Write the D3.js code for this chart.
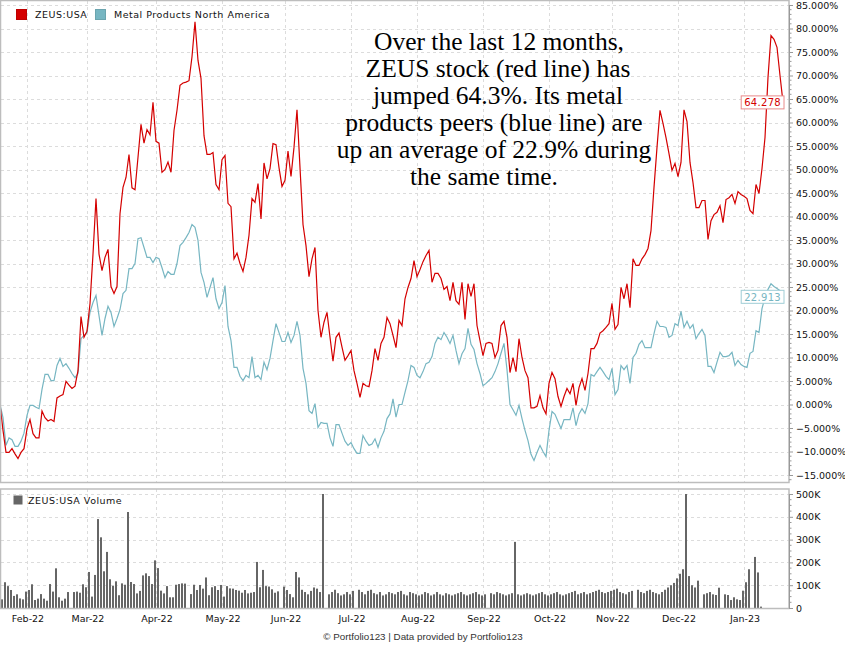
<!DOCTYPE html>
<html>
<head>
<meta charset="utf-8">
<title>ZEUS vs Metal Products North America</title>
<script src="https://d3js.org/d3.v7.min.js"></script>
<style>
  body { margin: 0; background: #fff; }
</style>
</head>
<body>
<div id="chart"></div>
<script>
// trading-day slots (weekdays) from Jan 19 2022; null volume = market holiday
const zeus = [0,-5.5,-10.2,-10.2,-9.4,-10.5,-11.5,-10.2,-9.4,-5.2,-3.2,-6.2,-7.1,-7.1,-1.4,-2.8,-3.5,-3.2,-3.6,1.4,
  1.8,2.1,4.9,4.1,3.4,3.9,7.2,18.7,14.3,15.6,21.5,32,43.8,32,28.5,31.3,33,25.1,23.6,25.1,
  40.6,46.2,48.3,53.2,46.1,45.7,52.6,59.6,55.6,58.5,57.4,64.3,56,55.6,49.4,50,51.6,49.4,58.3,62.6,
  67.9,68.4,68.6,68.9,74,81.4,73.2,69.4,57.2,53.2,53.2,53.6,46.8,45.7,52.1,53,42.8,42.1,31,32.2,
  30,28.3,31.3,36,43.8,43,47,39.5,51.4,48,50.2,55.5,55.3,50.4,46.4,47.7,53.9,48.5,54.7,62.7,
  50.4,38.3,33.8,27.2,31,33.4,20,14.3,17.5,19.6,14.3,9.2,14.3,15.2,12.2,9.4,10.4,11.5,7.2,4.5,
  1.5,4.5,4,3.8,7.2,11.9,9.4,13,14.3,18.5,17.2,14.7,12.1,17.9,16.8,22.5,24.9,26.8,30.6,27.2,
  28.7,30.4,31.7,32.8,26,27.9,27.9,26.8,24.5,25.1,22.1,26,22.1,21.3,26,18.1,25.7,23,25.7,16.8,
  13.6,10.4,13,13.2,13,10,11.5,16.8,17.7,14.3,6.8,10,7,14,10,7.2,5.7,-0.7,-0.7,-0.4,
  1.9,-0.7,-2,4.5,6.8,5.5,1.7,-0.4,1.7,3.4,2.3,4.5,-0.2,3.6,5.5,3,6.6,11.9,11.9,13,
  15.2,15.7,16.4,17.2,21.5,16,17,24.9,22.5,25.7,20.6,31,29.6,29.6,31,31.9,33.2,37,46.2,54.7,
  62.6,59.8,56.8,53.4,49.8,51.3,48.5,51.5,62.7,60.2,51.5,47.2,41.9,41.9,43.4,43.4,35.1,39.1,40.4,40.9,
  42.3,38.7,43.6,44,44.7,42.8,45.3,44.7,44.3,43.8,41.3,40.6,46.8,44.9,50.2,56.8,69.6,78.5,77.7,76,
  70,64.278];

const peers = [0,-2.8,-8.7,-7.1,-7.5,-8.9,-8.9,-7.8,-6.1,-2.3,-0.2,-0.2,-0.6,-0.9,3.2,6.4,6.4,5.1,5.1,8.3,
  9.8,8.1,8.7,7.7,6.6,5.7,6.6,14,14.7,15.3,19.6,21.7,23.2,18.9,14.7,18.3,20.9,19.6,16.6,18.3,
  20.2,23.6,24.3,28.9,28.9,30,35.3,35.5,33.4,31.3,31.3,30.2,31.3,31,29.1,27,28.3,27.7,27.7,30,
  33.8,34.5,35.5,36.6,38.3,37.7,34.9,28.1,26,22.8,24.9,27,22.5,20.4,21.7,25.3,16.6,13.6,7.9,7.9,
  6,5.1,6.2,5.7,10.2,5.7,6.2,5.3,9,7.4,9.8,13.6,17.2,15.3,13.4,13.4,15.3,13.2,14.7,17.7,
  14.7,7.7,4.5,-1.3,-1.9,0.2,-4.9,-3.8,-4,-4,-7.1,-8.9,-4.3,-4.3,-6.1,-7.8,-8.7,-8.1,-9.4,-10.4,
  -10.4,-6.6,-7.8,-8.7,-8.4,-7.3,-9.1,-7.1,-5.7,-3,-2,1.2,-2.7,0,0,2.6,5.1,8.3,7.9,6.2,
  5.7,7,8.7,9,10.2,13,14.3,13.8,15.3,14.3,13,14.7,11.5,8.7,10.8,11.9,16.2,12.8,11.7,8.7,
  6.6,4,4.5,5.1,5.7,7,8.7,10.9,13,7.4,0,-1.1,-2.3,-0.2,-3,-5.5,-7.7,-10.6,-11.9,-10.2,
  -8.7,-10,-11.1,-5.5,-1.5,-2.1,-3.6,-5.1,-3.2,-3.2,-3.2,-0.7,-4.5,-2,-0.9,-1.9,0.2,6.4,6,7,
  7.9,7,6,5.3,7.7,2.1,3.2,8.3,7.4,8.3,4.5,10,10.9,12.8,13.6,12.1,12.1,12.1,15.1,17.7,
  16.6,16.6,16.4,14.3,14.7,17.2,16.8,19.8,16.4,17.7,16.2,17,14,15.1,16,14.7,8.1,8.1,6.8,9,
  11.1,10.2,10.2,10.4,11.1,8.3,9.4,8.5,8.1,7.9,10.9,11.3,15.7,15.3,20.4,22.8,24.5,25.7,25.1,24.7,
  24.2,22.913];

// volume in thousands of shares
const volume = [38,113,96,79,53,60,42,38,72,79,104,35,41,61,41,32,105,72,174,47,
  32,41,70,null,70,72,67,104,91,158,50,145,390,310,161,246,126,98,117,56,
  108,102,421,114,105,64,75,143,152,140,105,209,175,76,64,96,47,47,102,105,
  108,107,null,61,102,79,101,85,134,56,91,96,79,101,50,96,86,85,79,76,
  67,79,64,67,70,202,91,167,96,94,82,67,73,null,94,79,61,47,158,134,
  80,70,60,75,90,85,70,500,null,60,70,80,65,55,60,70,60,75,null,80,
  70,60,75,80,65,60,70,55,60,70,65,60,70,75,60,55,70,65,60,55,
  60,70,65,55,60,70,60,55,65,60,55,60,65,70,60,55,60,65,70,60,
  55,60,null,65,60,70,65,60,55,60,65,290,60,55,60,65,60,55,60,65,
  70,60,55,60,65,70,60,55,60,65,70,75,60,65,70,60,65,70,75,80,
  70,65,70,75,80,85,70,65,60,70,75,null,80,70,65,75,80,70,65,60,
  70,80,90,100,110,130,150,170,500,140,100,90,120,null,60,65,70,60,57,89,
  null,60,57,35,47,38,35,76,113,170,null,224,156,6];

const monthLabels = ["Feb-22","Mar-22","Apr-22","May-22","Jun-22","Jul-22","Aug-22","Sep-22","Oct-22","Nov-22","Dec-22","Jan-23"];
const monthSlot = [9,29,52,74,95,117,139,161,183,204,226,248];

const pctTicks = d3.range(-15, 86, 5);
const volTicks = [0,100,200,300,400,500];

const noteLines = ["Over the last 12 months,","ZEUS stock (red line) has","jumped 64.3%. Its metal",
  "products peers (blue line) are","up an average of 22.9% during","the same time."];
const noteX = [499, 498, 498, 494, 494, 484];

const RED = "#d40000", BLUE = "#77b6c2", GRID = "#dcdcdc", FRAME = "#bdbdbd";
const SANS = "DejaVu Sans, sans-serif";

const W = 845, H = 650;
const svg = d3.select("#chart").append("svg").attr("width", W).attr("height", H)
  .style("font-family", SANS);

const x = d3.scaleLinear().domain([0, 263]).range([0, 789]);
const y = d3.scaleLinear().domain([-15, 85]).range([475, 5]);
const yv = d3.scaleLinear().domain([0, 500]).range([608, 494]);

const main = {top: 1, bottom: 483}, vol = {top: 489, bottom: 608.5};
const left = 1, right = 789;

// grid
function vgrid(p) {
  svg.append("g").selectAll("line").data(monthSlot).join("line")
    .attr("x1", d => x(d) + 0.5).attr("x2", d => x(d) + 0.5)
    .attr("y1", p.top).attr("y2", p.bottom)
    .attr("stroke", GRID).attr("stroke-dasharray", "3,3");
}
vgrid(main); vgrid(vol);
svg.append("g").selectAll("line").data(pctTicks).join("line")
  .attr("x1", left).attr("x2", right)
  .attr("y1", d => Math.round(y(d)) + 0.5).attr("y2", d => Math.round(y(d)) + 0.5)
  .attr("stroke", GRID).attr("stroke-dasharray", "3,3");
svg.append("g").selectAll("line").data(volTicks.slice(1)).join("line")
  .attr("x1", left).attr("x2", right)
  .attr("y1", d => Math.round(yv(d)) + 0.5).attr("y2", d => Math.round(yv(d)) + 0.5)
  .attr("stroke", GRID).attr("stroke-dasharray", "3,3");

// volume bars
svg.append("g").selectAll("rect")
  .data(volume.map((v, i) => ({v, i})).filter(d => d.v !== null))
  .join("rect")
  .attr("x", d => x(d.i) + 1).attr("width", 2)
  .attr("y", d => yv(d.v)).attr("height", d => yv(0) - yv(d.v))
  .attr("fill", "#666");

// lines
const line = d3.line().x((d, i) => x(i)).y(d => y(d));
svg.append("path").datum(peers).attr("d", line)
  .attr("fill", "none").attr("stroke", BLUE).attr("stroke-width", 1.2);
svg.append("path").datum(zeus).attr("d", line)
  .attr("fill", "none").attr("stroke", RED).attr("stroke-width", 1.2);

// frames
svg.append("rect").attr("x", left - 0.5).attr("y", main.top - 0.5)
  .attr("width", right - left + 0.5).attr("height", main.bottom - main.top)
  .attr("fill", "none").attr("stroke", FRAME).attr("stroke-width", 1.5);
svg.append("rect").attr("x", left - 0.5).attr("y", vol.top)
  .attr("width", right - left + 0.5).attr("height", vol.bottom - vol.top)
  .attr("fill", "none").attr("stroke", FRAME).attr("stroke-width", 1.5);

// right axes
const axMain = d3.axisRight(y).tickValues(pctTicks).tickSize(4).tickPadding(3)
  .tickFormat(d => d3.format(".3f")(d) + "%");
const gA = svg.append("g").attr("transform", `translate(${right},0)`).call(axMain);
gA.append("g").selectAll("line").data(d3.range(-16, 86, 1).filter(v => v % 5 !== 0)).join("line")
  .attr("x1", 0).attr("x2", 2.5).attr("y1", d => y(d)).attr("y2", d => y(d)).attr("stroke", "#999");
const axVol = d3.axisRight(yv).tickValues(volTicks).tickSize(4).tickPadding(3)
  .tickFormat(d => d === 0 ? "0" : d + "K");
const gV = svg.append("g").attr("transform", `translate(${right},0)`).call(axVol);
gV.append("g").selectAll("line").data(d3.range(25, 500, 25).filter(v => v % 100 !== 0)).join("line")
  .attr("x1", 0).attr("x2", 2.5).attr("y1", d => yv(d)).attr("y2", d => yv(d)).attr("stroke", "#999");
[gA, gV].forEach(g => {
  g.select(".domain").attr("stroke", "#999");
  g.selectAll(".tick line").attr("stroke", "#999");
  g.selectAll("text").attr("font-size", 9.5).attr("fill", "#111").attr("font-family", SANS);
});

// month labels
svg.append("g").selectAll("text").data(monthLabels).join("text")
  .attr("x", (d, i) => x(monthSlot[i]) + 1).attr("y", 622)
  .attr("text-anchor", "middle").attr("font-size", 9.5).attr("fill", "#111").text(d => d);

// legends
const leg = [{t: "ZEUS:USA", c: RED, x: 16}, {t: "Metal Products North America", c: BLUE, x: 95}];
leg.forEach(l => {
  svg.append("rect").attr("x", l.x + 0.5).attr("y", 9.5).attr("width", 10).attr("height", 10)
    .attr("fill", l.c).attr("stroke", d3.color(l.c).darker(0.3));
  svg.append("text").attr("x", l.x + 19).attr("y", 18).attr("font-size", 9.5)
    .attr("letter-spacing", 0.5).attr("fill", "#111").text(l.t);
});
svg.append("rect").attr("x", 13.5).attr("y", 495.5).attr("width", 9).attr("height", 9).attr("fill", "#666");
svg.append("text").attr("x", 28).attr("y", 504).attr("font-size", 9.5)
  .attr("letter-spacing", 0.5).attr("fill", "#111").text("ZEUS:USA Volume");

// last value labels
function lastLabel(series, color, border) {
  const v = series[series.length - 1];
  const g = svg.append("g");
  const t = g.append("text").attr("font-size", 10).attr("fill", color)
    .attr("letter-spacing", 0.3)
    .attr("text-anchor", "end").attr("y", y(v) + 3.8).text(d3.format(".3f")(v));
  const w = t.node().getComputedTextLength() + 6;
  const xr = x(series.length - 1) + 1;
  t.attr("x", xr - 3);
  g.insert("rect", "text").attr("x", xr - w).attr("y", y(v) - 6.5).attr("width", w).attr("height", 13)
    .attr("fill", "#fff").attr("stroke", border);
}
lastLabel(zeus, RED, "#e88a8a");
lastLabel(peers, BLUE, "#9fcdd5");

// annotation
svg.append("g").selectAll("text").data(noteLines).join("text")
  .attr("x", (d, i) => noteX[i]).attr("y", (d, i) => 50 + i * 27)
  .attr("text-anchor", "middle")
  .style("font-family", "'Liberation Serif', 'Times New Roman', serif")
  .attr("font-size", 25.5).attr("fill", "#000").text(d => d);

// footer
svg.append("text").attr("x", 423).attr("y", 640).attr("text-anchor", "middle")
  .style("font-family", "'Liberation Sans', Arial, sans-serif").attr("font-size", 9.8).attr("fill", "#333")
  .text("© Portfolio123 | Data provided by Portfolio123");
</script>
</body>
</html>
